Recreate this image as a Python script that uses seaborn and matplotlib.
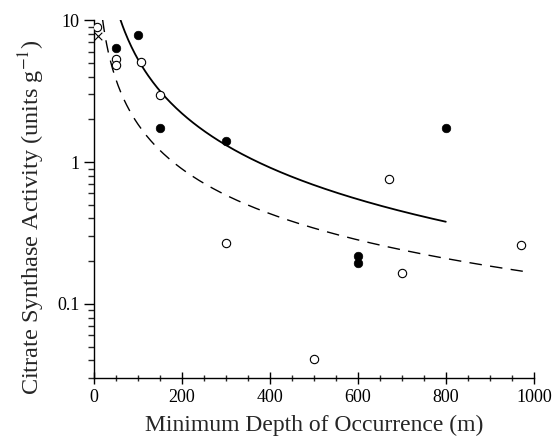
import numpy as np
import pandas as pd
import matplotlib
matplotlib.use("Agg")
import matplotlib.pyplot as plt
import seaborn as sns
from matplotlib.ticker import FixedLocator, MultipleLocator, LogLocator, NullFormatter, FixedFormatter

# ---- data ----
filled_depth = [50, 100, 150, 300, 600, 600, 800]
filled_cs = [6.4, 7.9, 1.73, 1.41, 0.216, 0.194, 1.75]

open_depth = [8, 50, 50, 107, 150, 300, 500, 670, 700, 970]
open_cs = [8.9, 5.3, 4.8, 5.1, 2.97, 0.267, 0.041, 0.755, 0.164, 0.259]

cross_depth = [10]
cross_cs = [7.8]

# power-law fit curves: y = coef * (x / ref) ** expo
solid_coef, solid_ref, solid_expo, solid_xmin, solid_xmax = 1.318, 300.0, -1.27, 40, 800
dashed_coef, dashed_ref, dashed_expo, dashed_xmin, dashed_xmax = 0.2825, 600.0, -1.05, 10, 975

x_ticks = [0, 200, 400, 600, 800, 1000]
y_ticks = [0.1, 1, 10]
y_tick_labels = ["0.1", "1", "10"]

sns.set_style("ticks")
plt.rcParams['font.family'] = ['Liberation Serif', 'DejaVu Serif']
plt.rcParams['mathtext.fontset'] = 'stix'

fig = plt.figure(figsize=(5.52, 4.40), dpi=100)
ax = fig.add_axes([0.170, 0.141, 0.797, 0.813])

xs = np.linspace(solid_xmin, solid_xmax, 300)
solid_df = pd.DataFrame({"x": xs, "y": solid_coef * (xs / solid_ref) ** solid_expo})
xd = np.linspace(dashed_xmin, dashed_xmax, 300)
dashed_df = pd.DataFrame({"x": xd, "y": dashed_coef * (xd / dashed_ref) ** dashed_expo})

sns.lineplot(data=solid_df, x="x", y="y", ax=ax, color="black", linewidth=1.3, sort=False)
sns.lineplot(data=dashed_df, x="x", y="y", ax=ax, color="black", linewidth=1.0,
             dashes=False, sort=False).lines[-1].set_dashes([9, 6])

sns.scatterplot(x=filled_depth, y=filled_cs, ax=ax, color="black", edgecolor="black",
                s=38, marker="o", zorder=5)
sns.scatterplot(x=open_depth, y=open_cs, ax=ax, facecolor="white", edgecolor="black",
                linewidth=0.8, s=36, marker="o", zorder=5)
sns.scatterplot(x=cross_depth, y=cross_cs, ax=ax, color="black", marker="x",
                s=30, linewidth=0.8, zorder=5)

ax.set_yscale("log")
ax.set_xlim(0, 1000)
ax.set_ylim(0.03, 10)

ax.xaxis.set_major_locator(FixedLocator(x_ticks))
ax.xaxis.set_minor_locator(MultipleLocator(50))
ax.yaxis.set_major_locator(FixedLocator(y_ticks))
ax.yaxis.set_major_formatter(FixedFormatter(y_tick_labels))
ax.yaxis.set_minor_locator(LogLocator(base=10, subs=np.arange(2, 10)))
ax.yaxis.set_minor_formatter(NullFormatter())

ax.tick_params(axis="x", which="major", direction="inout", length=9, width=1, labelsize=13, colors="black")
ax.tick_params(axis="x", which="minor", direction="inout", length=5, width=1)
ax.tick_params(axis="y", which="major", direction="out", length=7, width=1, labelsize=13, colors="black")
ax.tick_params(axis="y", which="minor", direction="out", length=4, width=1)

for s in ["top", "right"]:
    ax.spines[s].set_visible(False)
for s in ["left", "bottom"]:
    ax.spines[s].set_linewidth(1.0)
    ax.spines[s].set_color("black")

ax.set_xlabel("Minimum Depth of Occurrence (m)", fontsize=17, labelpad=6)
ax.set_ylabel("Citrate Synthase Activity (units g$^{-1}$)", fontsize=17.5)
ax.yaxis.set_label_coords(-0.107, 0.45)

fig.savefig("out.png", dpi=100)
